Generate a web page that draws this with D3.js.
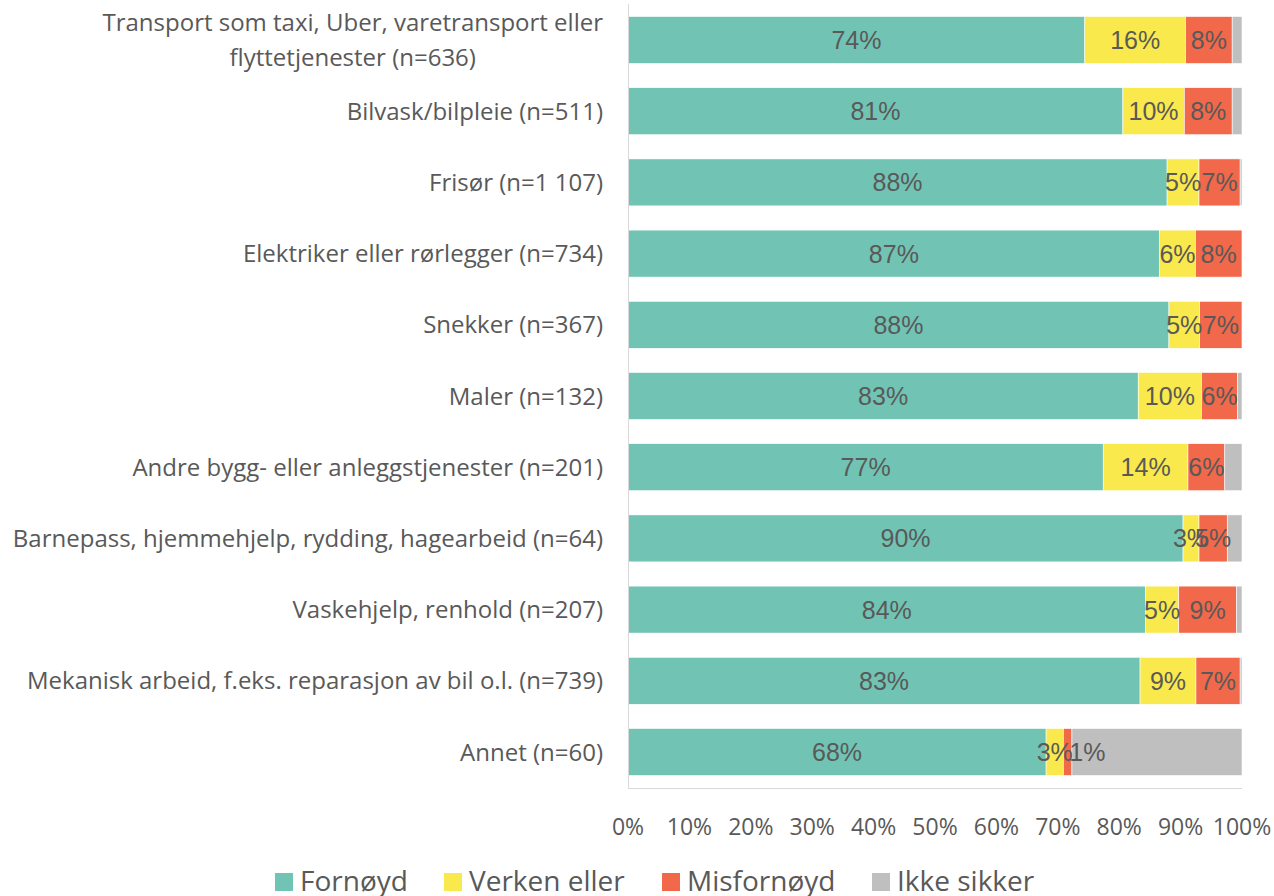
<!DOCTYPE html>
<html><head><meta charset="utf-8">
<script src="https://cdn.jsdelivr.net/npm/d3@7/dist/d3.min.js"></script>
<style>body{margin:0;background:#fff}</style>
</head><body>
<svg id="c" width="1274" height="896"></svg>
<script>
const categories = [
  "Transport som taxi, Uber, varetransport eller\nflyttetjenester (n=636)",
  "Bilvask/bilpleie (n=511)",
  "Frisør (n=1 107)",
  "Elektriker eller rørlegger (n=734)",
  "Snekker (n=367)",
  "Maler (n=132)",
  "Andre bygg- eller anleggstjenester (n=201)",
  "Barnepass, hjemmehjelp, rydding, hagearbeid (n=64)",
  "Vaskehjelp, renhold (n=207)",
  "Mekanisk arbeid, f.eks. reparasjon av bil o.l. (n=739)",
  "Annet (n=60)"
];
const seriesNames = ["Fornøyd", "Verken eller", "Misfornøyd", "Ikke sikker"];
const fornoyd    = [74.4, 80.6, 87.8, 86.6, 88.1, 83.1, 77.4, 90.4, 84.3, 83.4, 68.1];
const verken     = [16.4, 10.0, 5.2, 5.8, 5.0, 10.3, 13.8, 2.6, 5.4, 9.1, 2.8];
const misfornoyd = [7.6, 7.8, 6.7, 7.6, 6.9, 5.9, 6.0, 4.6, 9.4, 7.2, 1.4];
const ikkeSikker = [1.6, 1.6, 0.3, 0.0, 0.0, 0.7, 2.8, 2.4, 0.9, 0.3, 27.7];
const tickLabels = ["0%","10%","20%","30%","40%","50%","60%","70%","80%","90%","100%"];
const colors = ["#71C4B4", "#F9E94C", "#F2684A", "#BFBFBF"];
const showLabel = [true, true, true, false];

const svg = d3.select("#c");
const font = "'Open Sans', sans-serif";
const x = d3.scaleLinear().domain([0, 100]).range([628, 1242]);
const y = d3.scaleBand().domain(categories).range([4.4, 787.6]).paddingInner(0.34).paddingOuter(0.17);

const rows = categories.map((c, i) => {
  const vals = [fornoyd[i], verken[i], misfornoyd[i], ikkeSikker[i]];
  let acc = 0;
  return vals.map((v, k) => { const s = {cat: c, k, v, x0: acc, x1: acc + v}; acc += v; return s; });
});

const g = svg.append("g");
rows.forEach(segs => {
  segs.forEach(s => {
    if (s.v <= 0) return;
    g.append("rect")
      .attr("x", x(s.x0)).attr("width", Math.max(0, x(Math.min(100, s.x1)) - x(s.x0)))
      .attr("y", y(s.cat)).attr("height", y.bandwidth())
      .attr("fill", colors[s.k]).attr("stroke", "#fff").attr("stroke-width", 0.6);
  });
});
rows.forEach(segs => {
  segs.forEach(s => {
    if (!showLabel[s.k] || s.v <= 0) return;
    const w = x(s.x1) - x(s.x0);
    const narrow = w < 12;
    g.append("text")
      .attr("x", narrow ? x(s.x0) + 6 : (x(s.x0) + x(s.x1)) / 2)
      .attr("y", y(s.cat) + y.bandwidth() / 2)
      .attr("dy", "0.36em")
      .attr("text-anchor", narrow ? "start" : "middle")
      .attr("font-family", "'Liberation Sans', Arial, sans-serif")
      .attr("font-size", 25)
      .attr("fill", "#595959")
      .text(Math.round(s.v) + "%");
  });
});

// axes lines
svg.append("line").attr("x1", 628.5).attr("x2", 628.5).attr("y1", 4).attr("y2", 788)
  .attr("stroke", "#D9D9D9").attr("stroke-width", 1);
svg.append("line").attr("x1", 628).attr("x2", 1242).attr("y1", 788.5).attr("y2", 788.5)
  .attr("stroke", "#D9D9D9").attr("stroke-width", 1);

// category labels (multi-line block right-aligned, lines centred within block)
categories.forEach(c => {
  const lines = c.split("\n");
  const cy = y(c) + y.bandwidth() / 2;
  const t = svg.append("text")
    .attr("font-family", font).attr("font-size", 24).attr("fill", "#595959");
  lines.forEach((ln, j) => {
    t.append("tspan").attr("x", 603).attr("text-anchor", "end")
      .attr("y", cy + (j - (lines.length - 1) / 2) * 35)
      .attr("dy", "0.36em").text(ln);
  });
  if (lines.length > 1) {
    const spans = t.selectAll("tspan").nodes();
    const widths = spans.map(n => n.getComputedTextLength());
    const maxW = d3.max(widths);
    const centre = 603 - maxW / 2;
    spans.forEach(n => d3.select(n).attr("x", centre).attr("text-anchor", "middle"));
  }
});

// x tick labels
const ticks = d3.range(0, 101, 10);
svg.append("g").selectAll("text").data(ticks).join("text")
  .attr("x", d => x(d)).attr("y", 827).attr("dy", "0.36em")
  .attr("text-anchor", "middle").attr("font-family", font).attr("font-size", 23)
  .attr("fill", "#595959").text((d, i) => tickLabels[i]);

// legend
const legendX = [275, 444, 662, 872];
const lg = svg.append("g");
seriesNames.forEach((n, i) => {
  lg.append("rect").attr("x", legendX[i]).attr("y", 873).attr("width", 18).attr("height", 18)
    .attr("fill", colors[i]);
  lg.append("text").attr("x", legendX[i] + 25).attr("y", 881).attr("dy", "0.36em")
    .attr("font-family", font).attr("font-size", 28).attr("fill", "#595959").text(n);
});
</script>
</body></html>
